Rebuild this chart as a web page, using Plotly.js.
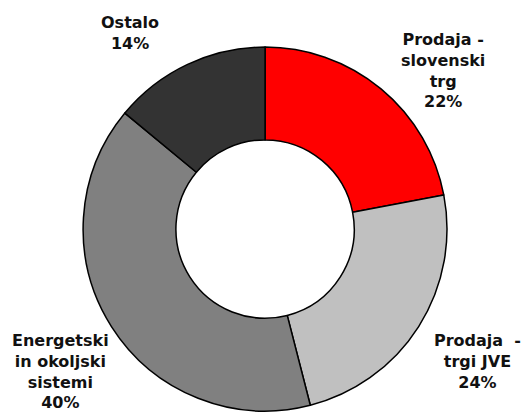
<!DOCTYPE html>
<html>
<head>
<meta charset="utf-8">
<script src="https://cdn.plot.ly/plotly-3.0.1.min.js"></script>
<style>
  html, body { margin: 0; padding: 0; background: #fff; }
  #chart { width: 528px; height: 417px; }
</style>
</head>
<body>
<div id="chart"></div>
<script>
// segments, clockwise from 12 o'clock
const labels = ["Prodaja -<br>slovenski<br>trg", "Prodaja  -<br>trgi JVE", "Energetski<br>in okoljski<br>sistemi", "Ostalo"];
const shares = [22, 24, 40, 14];
const sliceColors = ["#ff0000", "#c0c0c0", "#808080", "#333333"];

// where each label sits (paper coords)
const labelX = [0.839, 0.905, 0.115, 0.246];
const labelY = [0.832, 0.133, 0.108, 0.921];

const donut = {
  type: "pie",
  values: shares,
  labels: labels,
  sort: false,
  direction: "clockwise",
  rotation: 0,
  hole: 0.49,
  textinfo: "none",
  hoverinfo: "none",
  marker: { colors: sliceColors, line: { color: "#000", width: 1.5 } },
  domain: { x: [0.157, 0.847], y: [0.0144, 0.887] }
};

let notes = [];
for (let i = 0; i < labels.length; i++) {
  notes.push({
    xref: "paper", yref: "paper",
    x: labelX[i], y: labelY[i],
    xanchor: "center", yanchor: "middle",
    showarrow: false, align: "center",
    text: "<b>" + labels[i] + "<br>" + shares[i] + "%</b>",
    font: { family: "DejaVu Sans", size: 16, color: "#111" }
  });
}

Plotly.newPlot("chart", [donut], {
  width: 528, height: 417,
  margin: { l: 0, r: 0, t: 0, b: 0 },
  showlegend: false,
  paper_bgcolor: "#fff",
  annotations: notes
}, { staticPlot: true });
</script>
</body>
</html>
